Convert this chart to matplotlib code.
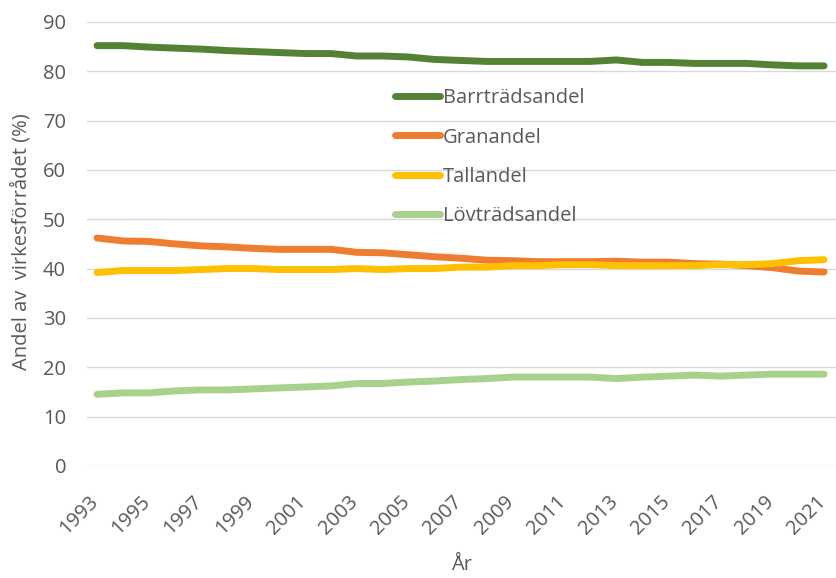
import numpy as np
import matplotlib.pyplot as plt
import matplotlib.transforms as mtransforms

plt.rcParams['font.family'] = ['Open Sans', 'DejaVu Sans']

years = list(range(1993, 2022))
barr = [85.2, 85.2, 84.9, 84.7, 84.5, 84.2, 84.0, 83.8, 83.6, 83.6,
        83.1, 83.1, 82.9, 82.4, 82.2, 82.0, 82.0, 82.0, 82.0, 82.0,
        82.3, 81.8, 81.8, 81.6, 81.6, 81.6, 81.3, 81.1, 81.1]
gran = [46.2, 45.6, 45.5, 45.0, 44.6, 44.4, 44.1, 43.9, 43.9, 43.9,
        43.3, 43.2, 42.8, 42.4, 42.1, 41.7, 41.6, 41.4, 41.4, 41.4,
        41.5, 41.3, 41.3, 41.0, 40.9, 40.6, 40.2, 39.5, 39.3]
tall = [39.2, 39.6, 39.6, 39.6, 39.8, 40.0, 40.0, 39.8, 39.8, 39.8,
        40.0, 39.8, 40.0, 40.0, 40.3, 40.3, 40.6, 40.6, 40.8, 40.8,
        40.6, 40.6, 40.6, 40.6, 40.8, 40.8, 41.0, 41.6, 41.8]
lov = [14.5, 14.8, 14.8, 15.2, 15.4, 15.4, 15.6, 15.8, 16.0, 16.2,
       16.7, 16.7, 17.0, 17.2, 17.5, 17.7, 18.0, 18.0, 18.0, 18.0,
       17.7, 18.0, 18.2, 18.4, 18.2, 18.4, 18.6, 18.6, 18.6]

series = [("Barrträdsandel", barr, "#548235"),
          ("Granandel", gran, "#ED7D31"),
          ("Tallandel", tall, "#FFC000"),
          ("Lövträdsandel", lov, "#A9D18E")]

grey = "#595959"
fs = 14.5
fig = plt.figure(figsize=(8.36, 5.78), dpi=100)
ax = fig.add_axes([0.104, 0.194, 0.896, 0.768])

for name, vals, col in series:
    ax.plot(years, vals, color=col, lw=5, solid_capstyle="round", label=name)

ax.set_xlim(1992.61, 2021.46)
ax.set_ylim(0, 90)
ax.set_yticks(range(0, 91, 10))
ax.set_xticks(years[::2])
ax.set_xticklabels([])
ax.grid(axis="y", color="#D9D9D9", lw=1)
ax.set_axisbelow(True)
for s in ["top", "right", "left", "bottom"]:
    ax.spines[s].set_visible(False)
ax.tick_params(length=0, labelsize=fs, colors=grey)
ax.tick_params(axis="y", pad=15)

# rotated year labels, anchored below each tick
off = mtransforms.ScaledTranslation(-1 / 72, -24 / 72, fig.dpi_scale_trans)
trans = ax.get_xaxis_transform() + off
for y in years[::2]:
    ax.text(y, 0, str(y), transform=trans, rotation=45, ha="right",
            va="center", rotation_mode="anchor", fontsize=fs, color=grey)

ax.set_xlabel("År", fontsize=fs, color=grey, va="center")
ax.xaxis.set_label_coords(0.5, -0.223)
ax.set_ylabel("Andel av  virkesförrådet (%)", fontsize=fs, color=grey,
              va="center")
ax.yaxis.set_label_coords(-0.0875, 0.505)

leg = ax.legend(loc="upper left", bbox_to_anchor=(0.401, 0.869), frameon=False,
                fontsize=fs, handlelength=2.2, handletextpad=0.15,
                labelspacing=0.96, borderaxespad=0, labelcolor=grey)

fig.savefig("out.png", dpi=100)
